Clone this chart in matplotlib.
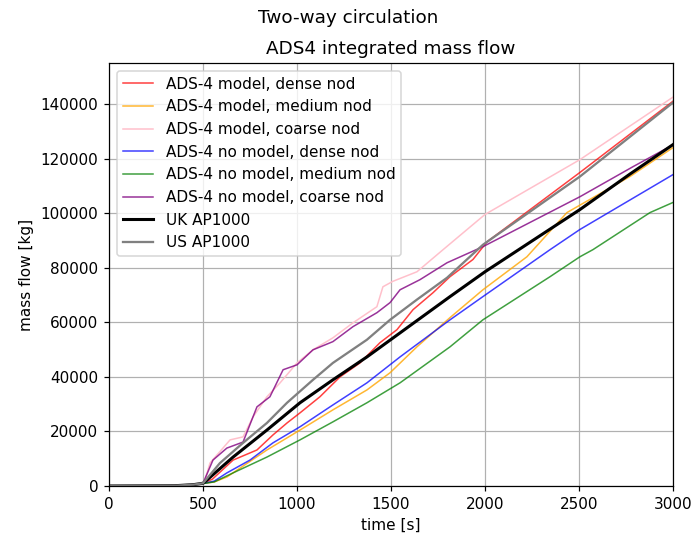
import matplotlib
matplotlib.use("Agg")
import matplotlib.pyplot as plt

# ---- data (time [s], integrated mass flow [kg]) ----
t_red = [0, 350, 450, 500, 550, 660, 787, 872, 947, 1016, 1122, 1229, 1335, 1441, 1532, 1617, 1723, 1814, 1936, 2011, 2505, 3000]
v_red = [0, 100, 500, 1000, 2500, 9500, 13200, 18700, 23100, 26800, 32700, 40000, 45100, 52500, 57300, 64600, 70800, 76700, 83000, 89500, 114900, 141000]

t_orange = [0, 350, 450, 500, 560, 627, 840, 1016, 1191, 1372, 1495, 1638, 1814, 1989, 2223, 2436, 2771, 3000]
v_orange = [0, 100, 500, 900, 1500, 3300, 13200, 20500, 27900, 35200, 41500, 51000, 61700, 71900, 84000, 100200, 113400, 124000]

t_pink = [0, 350, 450, 500, 510, 537, 644, 713, 766, 840, 910, 1000, 1085, 1191, 1298, 1425, 1457, 1510, 1638, 1777, 2000, 2505, 3000]
v_pink = [0, 100, 500, 1000, 2000, 8400, 16900, 18000, 25300, 32700, 37800, 45100, 49900, 54300, 59800, 65700, 73000, 75000, 78500, 86600, 99500, 119600, 142500]

t_blue = [0, 350, 450, 500, 560, 627, 750, 872, 1016, 1191, 1372, 1548, 1814, 1989, 2346, 2505, 3000]
v_blue = [0, 100, 500, 900, 1800, 4800, 9500, 15800, 21700, 29700, 37800, 47300, 60900, 69400, 86600, 94000, 114100]

t_green = [0, 350, 450, 500, 560, 660, 840, 1016, 1191, 1372, 1548, 1814, 1989, 2346, 2505, 2574, 2878, 3000]
v_green = [0, 100, 500, 900, 1500, 4800, 10600, 16900, 23500, 30500, 37800, 51000, 60900, 76700, 84000, 86600, 100200, 103900]

t_purple = [0, 350, 450, 500, 553, 627, 713, 787, 856, 926, 1000, 1085, 1191, 1298, 1425, 1495, 1548, 1654, 1798, 1989, 2505, 2787, 3000]
v_purple = [0, 100, 500, 1000, 9500, 13900, 16100, 29000, 32700, 42600, 44400, 49900, 52900, 58400, 63500, 67200, 71900, 75600, 81800, 87700, 106000, 117000, 125000]

t_uk = [0, 350, 450, 500, 521, 660, 840, 1016, 1191, 1372, 1548, 1814, 2000, 2505, 2771, 3000]
v_uk = [0, 100, 500, 1000, 2200, 10600, 20500, 30500, 38900, 47300, 56100, 69400, 78500, 101300, 114300, 125100]

t_us = [0, 350, 450, 500, 590, 713, 840, 947, 1085, 1191, 1372, 1495, 1638, 1798, 1989, 2505, 3000]
v_us = [0, 100, 500, 1000, 8400, 15800, 23100, 30500, 38900, 45100, 53600, 60900, 68300, 76300, 88400, 113400, 140500]

labels = ["ADS-4 model, dense nod", "ADS-4 model, medium nod", "ADS-4 model, coarse nod",
          "ADS-4 no model, dense nod", "ADS-4 no model, medium nod", "ADS-4 no model, coarse nod",
          "UK AP1000", "US AP1000"]

series = [(t_red, v_red), (t_orange, v_orange), (t_pink, v_pink), (t_blue, v_blue),
          (t_green, v_green), (t_purple, v_purple), (t_uk, v_uk), (t_us, v_us)]
colors = ["red", "orange", "pink", "blue", "green", "purple", "black", "grey"]
widths = [1, 1, 1, 1, 1, 1, 2, 1.5]
alphas = [0.75, 0.8, 1.0, 0.75, 0.75, 0.8, 1.0, 1.0]

dpi = 110
fig = plt.figure(figsize=(697 / dpi, 534 / dpi), dpi=dpi)
ax = fig.add_axes([109 / 697, 48 / 534, (673 - 109) / 697, (486 - 63) / 534])

for (t, v), lab, c, w, a in zip(series, labels, colors, widths, alphas):
    ax.plot(t, v, color=c, lw=w, alpha=a, label=lab)

ax.set_xlim(0, 3000)
ax.set_ylim(0, 155000)
ax.set_xticks([0, 500, 1000, 1500, 2000, 2500, 3000])
ax.set_yticks([0, 20000, 40000, 60000, 80000, 100000, 120000, 140000])
ax.grid(True, color="#b0b0b0", lw=0.8)
ax.set_xlabel("time [s]", fontsize=10)
ax.set_ylabel("mass flow [kg]", fontsize=10)
ax.tick_params(labelsize=10)
ax.set_title("ADS4 integrated mass flow", fontsize=12)
fig.suptitle("Two-way circulation", fontsize=12, y=1 - 9 / 534, va="top")
ax.legend(loc="upper left", fontsize=10)

fig.savefig("out.png", dpi=dpi)
